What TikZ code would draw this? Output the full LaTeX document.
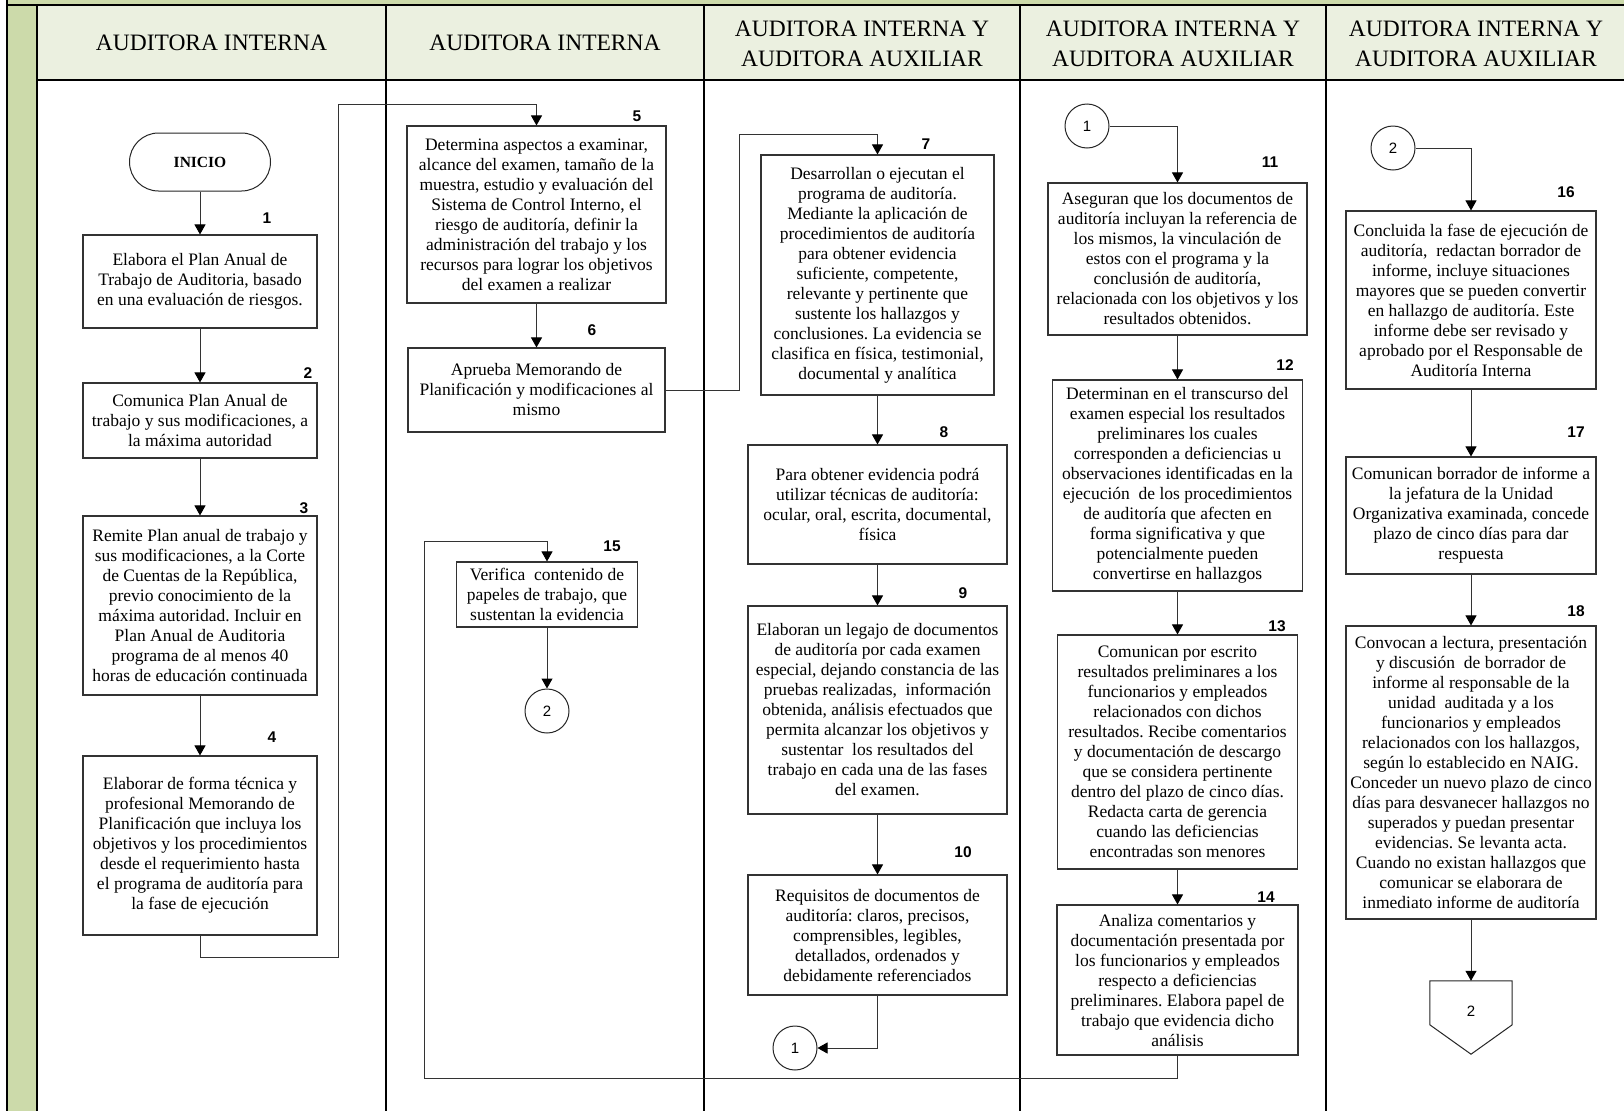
\documentclass[tikz,border=0pt]{standalone}
\usepackage{fontspec}
\setmainfont{Liberation Serif}
\newfontfamily\numfont{Liberation Sans}
\usetikzlibrary{arrows.meta}
\definecolor{bandgreen}{RGB}{204,218,170}
\definecolor{headfill}{RGB}{235,240,224}
\frenchspacing

\tikzset{
  stepbox/.style={draw=black!80, line width=1.1pt, fill=white, align=center,
    inner sep=2pt, font=\fontsize{17.5}{20}\selectfont},
  num/.style={font=\numfont\bfseries\fontsize{15.5}{15.5}\selectfont, inner sep=0pt},
  flow/.style={draw=black!80, line width=1pt,
    -{Triangle[width=11pt,length=10pt,fill=black,color=black]}},
  link/.style={circle, draw=black!85, line width=1pt, fill=white, minimum size=44pt,
    inner sep=0pt, font=\numfont\fontsize{15}{15}\selectfont},
  lanehead/.style={align=center, font=\fontsize{23.5}{30}\selectfont},
  lane/.style={line width=1.4pt, draw=black},
}

\begin{document}
\begin{tikzpicture}[x=1pt, y=-1pt]
\useasboundingbox (0,0) rectangle (1624,1111);
\fill[white] (0,0) rectangle (1624,1111);

% frame: green band, header row and swimlane dividers
\fill[bandgreen] (7,0) rectangle (1624,5);
\fill[bandgreen] (7,0) rectangle (37,1111);
\fill[headfill] (37,5) rectangle (1624,80);
\draw[line width=1.6pt] (7,0) -- (7,1111);
\draw[line width=1.4pt] (7,5) -- (1624,5);
\draw[line width=1.2pt] (37,80) -- (1624,80);
\draw[lane] (37,5) -- (37,1111);
\draw[lane] (386,5) -- (386,1111);
\draw[lane] (704,5) -- (704,1111);
\draw[lane] (1020,5) -- (1020,1111);
\draw[lane] (1326,5) -- (1326,1111);

\node[lanehead] (h1) at (211.5,43) {AUDITORA INTERNA};
\node[lanehead] (h2) at (545,43) {AUDITORA INTERNA};
\node[lanehead] (h3) at (862,44) {AUDITORA INTERNA Y\\AUDITORA AUXILIAR};
\node[lanehead] (h4) at (1173,44) {AUDITORA INTERNA Y\\AUDITORA AUXILIAR};
\node[lanehead] (h5) at (1476,44) {AUDITORA INTERNA Y\\AUDITORA AUXILIAR};

% lane 1
\node[draw=black!85, line width=1pt, rounded corners=29pt, minimum width=141pt,
  minimum height=58pt, font=\bfseries\fontsize{15.5}{15.5}\selectfont] (ini) at (200,162) {INICIO};
\node[stepbox, minimum width=234pt, minimum height=93pt] (b1) at (200,281.5)
  {Elabora el Plan Anual de\\Trabajo de Auditoria, basado\\en una evaluación de riesgos.};
\node[stepbox, minimum width=234pt, minimum height=75pt] (b2) at (200,420.5)
  {Comunica Plan Anual de\\trabajo y sus modificaciones, a\\la máxima autoridad};
\node[stepbox, minimum width=234pt, minimum height=179pt] (b3) at (200,605.5)
  {Remite Plan anual de trabajo y\\sus modificaciones, a la Corte\\de Cuentas de la República,\\previo conocimiento de la\\máxima autoridad. Incluir en\\Plan Anual de Auditoria\\programa de al menos 40\\horas de educación continuada};
\node[stepbox, minimum width=234pt, minimum height=179pt] (b4) at (200,845.5)
  {Elaborar de forma técnica y\\profesional Memorando de\\Planificación que incluya los\\objetivos y los procedimientos\\desde el requerimiento hasta\\el programa de auditoría para\\la fase de ejecución};

% lane 2
\node[stepbox, minimum width=259pt, minimum height=177pt] (b5) at (536.5,214.5)
  {Determina aspectos a examinar,\\alcance del examen, tamaño de la\\muestra, estudio y evaluación del\\Sistema de Control Interno, el\\riesgo de auditoría, definir la\\administración del trabajo y los\\recursos para lograr los objetivos\\del examen a realizar};
\node[stepbox, minimum width=257pt, minimum height=84pt] (b6) at (536.5,390)
  {Aprueba Memorando de\\Planificación y modificaciones al\\mismo};
\node[stepbox, minimum width=181pt, minimum height=65pt] (b15) at (547,594.5)
  {Verifica\ \ contenido de\\papeles de trabajo, que\\sustentan la evidencia};
\node[link] (c2a) at (547,711) {2};

% lane 3
\node[stepbox, minimum width=233pt, minimum height=240pt] (b7) at (877.5,275)
  {Desarrollan o ejecutan el\\programa de auditoría.\\Mediante la aplicación de\\procedimientos de auditoría\\para obtener evidencia\\suficiente, competente,\\relevante y pertinente que\\sustente los hallazgos y\\conclusiones. La evidencia se\\clasifica en física, testimonial,\\documental y analítica};
\node[stepbox, minimum width=259pt, minimum height=119pt] (b8) at (877.5,504.5)
  {Para obtener evidencia podrá\\utilizar técnicas de auditoría:\\ocular, oral, escrita, documental,\\física};
\node[stepbox, minimum width=259pt, minimum height=208pt] (b9) at (877.5,710)
  {Elaboran un legajo de documentos\\de auditoría por cada examen\\especial, dejando constancia de las\\pruebas realizadas,\ \ información\\obtenida, análisis efectuados que\\permita alcanzar los objetivos y\\sustentar\ \ los resultados del\\trabajo en cada una de las fases\\del examen.};
\node[stepbox, minimum width=259pt, minimum height=120pt] (b10) at (877.5,935)
  {Requisitos de documentos de\\auditoría: claros, precisos,\\comprensibles, legibles,\\detallados, ordenados y\\debidamente referenciados};
\node[link] (c1a) at (795,1048) {1};

% lane 4
\node[link] (c1b) at (1087,126) {1};
\node[stepbox, minimum width=259pt, minimum height=152pt] (b11) at (1177.5,259)
  {Aseguran que los documentos de\\auditoría incluyan la referencia de\\los mismos, la vinculación de\\estos con el programa y la\\conclusión de auditoría,\\relacionada con los objetivos y los\\resultados obtenidos.};
\node[stepbox, minimum width=250pt, minimum height=211pt] (b12) at (1177.5,485.5)
  {Determinan en el transcurso del\\examen especial los resultados\\preliminares los cuales\\corresponden a deficiencias u\\observaciones identificadas en la\\ejecución\ \ de los procedimientos\\de auditoría que afecten en\\forma significativa y que\\potencialmente pueden\\convertirse en hallazgos};
\node[stepbox, minimum width=240pt, minimum height=234pt] (b13) at (1177.5,752)
  {Comunican por escrito\\resultados preliminares a los\\funcionarios y empleados\\relacionados con dichos\\resultados. Recibe comentarios\\y documentación de descargo\\que se considera pertinente\\dentro del plazo de cinco días.\\Redacta carta de gerencia\\cuando las deficiencias\\encontradas son menores};
\node[stepbox, minimum width=241pt, minimum height=150pt] (b14) at (1177.5,980)
  {Analiza comentarios y\\documentación presentada por\\los funcionarios y empleados\\respecto a deficiencias\\preliminares. Elabora papel de\\trabajo que evidencia dicho\\análisis};

% lane 5
\node[link] (c2b) at (1393,148) {2};
\node[stepbox, minimum width=250pt, minimum height=178pt] (b16) at (1471,300)
  {Concluida la fase de ejecución de\\auditoría,\ \ redactan borrador de\\informe, incluye situaciones\\mayores que se pueden convertir\\en hallazgo de auditoría. Este\\informe debe ser revisado y\\aprobado por el Responsable de\\Auditoría Interna};
\node[stepbox, minimum width=250pt, minimum height=117pt] (b17) at (1471,515.5)
  {Comunican borrador de informe a\\la jefatura de la Unidad\\Organizativa examinada, concede\\plazo de cinco días para dar\\respuesta};
\node[stepbox, minimum width=250pt, minimum height=293pt] (b18) at (1471,772.5)
  {Convocan a lectura, presentación\\y discusión\ \ de borrador de\\informe al responsable de la\\unidad\ \ auditada y a los\\funcionarios y empleados\\relacionados con los hallazgos,\\según lo establecido en NAIG.\\Conceder un nuevo plazo de cinco\\días para desvanecer hallazgos no\\superados y puedan presentar\\evidencias. Se levanta acta.\\Cuando no existan hallazgos que\\comunicar se elaborara de\\inmediato informe de auditoría};

% off-page connector
\node[minimum width=82pt, minimum height=73pt, inner sep=0pt] (off) at (1471,1017.5) {};
\draw[black!85, line width=1pt, fill=white] (off.north west) -- (off.north east)
  -- ([yshift=-44pt]off.north east) -- (off.south) -- ([yshift=-44pt]off.north west) -- cycle;
\node[font=\numfont\fontsize{15}{15}\selectfont] (offtxt) at (1471,1011) {2};

% step numbers
\node[num] (n1) at (267,218) {1};
\node[num] (n2) at (308,373) {2};
\node[num] (n3) at (304,508) {3};
\node[num] (n4) at (272,737) {4};
\node[num] (n5) at (637,116) {5};
\node[num] (n6) at (592,330) {6};
\node[num] (n7) at (926,144) {7};
\node[num] (n8) at (944,432) {8};
\node[num] (n9) at (963,593) {9};
\node[num] (n10) at (963,852) {10};
\node[num] (n11) at (1270,162) {11};
\node[num] (n12) at (1285,365) {12};
\node[num] (n13) at (1277,626) {13};
\node[num] (n14) at (1266,897) {14};
\node[num] (n15) at (612,546) {15};
\node[num] (n16) at (1566,192) {16};
\node[num] (n17) at (1576,432) {17};
\node[num] (n18) at (1576,611) {18};

% connectors
\draw[flow] (ini.south) -- (b1.north);
\draw[flow] (b1.south) -- (b2.north);
\draw[flow] (b2.south) -- (b3.north);
\draw[flow] (b3.south) -- (b4.north);
\draw[flow] (b4.south) -- (200,957) -- (338,957) -- (338,104) -| (b5.north);
\draw[flow] (b5.south) -- (b6.north);
\draw[flow] (b6.east) -| (739,134) -| (b7.north);
\draw[flow] (b7.south) -- (b8.north);
\draw[flow] (b8.south) -- (b9.north);
\draw[flow] (b9.south) -- (b10.north);
\draw[flow] (b10.south) |- (c1a.east);
\draw[flow] (c1b.east) -| (b11.north);
\draw[flow] (b11.south) -- (b12.north);
\draw[flow] (b12.south) -- (b13.north);
\draw[flow] (b13.south) -- (b14.north);
\draw[flow] (b14.south) -- (1177.5,1078) -- (424,1078) -- (424,541) -| (b15.north);
\draw[flow] (b15.south) -- (c2a.north);
\draw[flow] (c2b.east) -| (b16.north);
\draw[flow] (b16.south) -- (b17.north);
\draw[flow] (b17.south) -- (b18.north);
\draw[flow] (b18.south) -- (off.north);
\end{tikzpicture}
\end{document}
